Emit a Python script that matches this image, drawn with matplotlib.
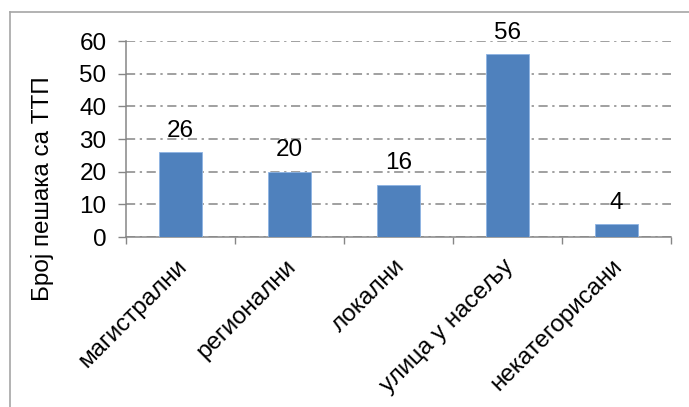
import matplotlib
matplotlib.use("Agg")
import matplotlib.pyplot as plt
from matplotlib.lines import Line2D
from matplotlib.transforms import ScaledTranslation

categories = ["магистрални", "регионални", "локални", "улица у насељу", "некатегорисани"]
values = [26, 20, 16, 56, 4]
yticks = [0, 10, 20, 30, 40, 50, 60]
ylabel = "Број пешака са ТТП"

plt.rcParams['font.family'] = ['Liberation Sans', 'DejaVu Sans']
FS = 17.5

W, H = 689, 407
fig = plt.figure(figsize=(W/100, H/100), dpi=100)
ax = fig.add_axes([126/W, 1-237/H, (671-126)/W, (237-41)/H])

x = list(range(len(categories)))
ax.bar(x, values, width=0.40, color="#4F81BD", edgecolor="#8EB4E3", linewidth=0.6, zorder=3)

for xi, v in zip(x, values):
    ax.annotate(str(v), (xi, v), xytext=(0, 11), textcoords="offset points",
                ha="center", va="baseline", fontsize=FS, color="black", zorder=4)

ax.set_xlim(-0.5, len(categories)-0.5)
ax.set_ylim(0, 60)
ax.set_yticks(yticks)
ax.set_yticklabels([str(t) for t in yticks])
ax.yaxis.grid(True, color="#868686", linewidth=1.1, dashes=(6, 3, 1.5, 3), zorder=1)
ax.set_axisbelow(True)

ax.set_xticks([i - 0.5 for i in range(len(categories)+1)])
ax.set_xticklabels([])
ax.set_xticks(x, minor=True)
ax.set_xticklabels(categories, minor=True, rotation=45, ha="right", va="top",
                   rotation_mode="anchor", fontsize=FS)
ax.tick_params(axis="x", which="minor", length=0, pad=13)
ax.tick_params(axis="x", which="major", length=5, width=1, color="#868686", direction="out")
ax.tick_params(axis="y", length=6, width=1, color="#868686", direction="out", pad=8,
               labelsize=FS)
offset = ScaledTranslation(-5/100, 0, fig.dpi_scale_trans)
for lab in ax.get_xticklabels(minor=True):
    lab.set_transform(lab.get_transform() + offset)

for s in ["top", "right"]:
    ax.spines[s].set_visible(False)
for s in ["left", "bottom"]:
    ax.spines[s].set_color("#868686")
    ax.spines[s].set_linewidth(1.1)

fig.text(43/W, 1-189/H, ylabel, rotation=90, ha="center", va="center", fontsize=FS)

# outer chart frame (only left and top edges fall inside the picture)
fig.add_artist(Line2D([10/W, 10/W], [0, 1-12/H], transform=fig.transFigure,
                      color="#A6A6A6", linewidth=1.2))
fig.add_artist(Line2D([10/W, 1], [1-12/H, 1-12/H], transform=fig.transFigure,
                      color="#A6A6A6", linewidth=1.2))

fig.savefig("out.png", dpi=100)
